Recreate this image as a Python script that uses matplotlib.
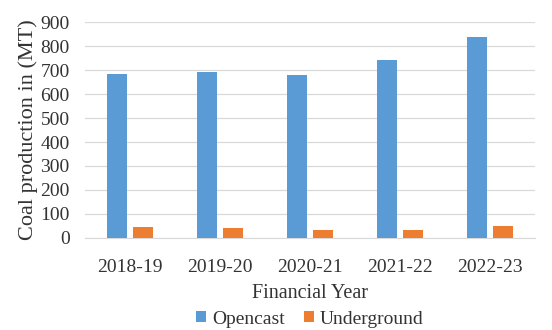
import numpy as np
import matplotlib.pyplot as plt

years = ['2018-19', '2019-20', '2020-21', '2021-22', '2022-23']
opencast = [683, 690, 680, 744, 836]
underground = [45, 43, 33, 33, 50]

plt.rcParams['font.family'] = ['Liberation Serif', 'DejaVu Serif']

fig = plt.figure(figsize=(5.52, 3.3), dpi=100)
ax = fig.add_axes([0.154, 0.279, 0.815, 0.654])

x = np.arange(len(years))
w = 0.22
ax.bar(x - 0.144, opencast, w, color='#5B9BD5', label='Opencast', zorder=3)
ax.bar(x + 0.144, underground, w, color='#ED7D31', label='Underground', zorder=3)

ax.set_xlim(-0.5, len(years) - 0.5)
ax.set_ylim(0, 900)
ax.set_yticks(range(0, 901, 100))
ax.set_xticks(x)
ax.set_xticklabels(years)
ax.grid(axis='y', color='#D9D9D9', linewidth=0.9, zorder=0)
for s in ['top', 'right', 'left']:
    ax.spines[s].set_visible(False)
ax.spines['bottom'].set_color('#D9D9D9')
ax.tick_params(length=0, labelsize=14, colors='#333333')
ax.tick_params(axis='y', pad=11)
ax.tick_params(axis='x', pad=15)

ax.set_xlabel('Financial Year', fontsize=14.5, color='#333333', labelpad=6)
ax.set_ylabel('Coal production in (MT)', fontsize=16, color='#333333', labelpad=2)

ax.legend(loc='center', bbox_to_anchor=(0.5, -0.377), ncol=2, frameon=False,
          fontsize=14, handlelength=0.5, handleheight=0.5, handletextpad=0.3,
          columnspacing=1.0, labelcolor='#333333', borderpad=0)

fig.savefig('out.png', dpi=100)
